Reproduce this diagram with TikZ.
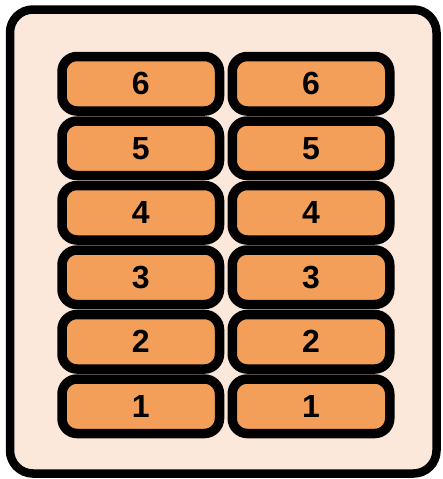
\documentclass[tikz,border=0pt]{standalone}
\usepackage{fontspec}
\setmainfont{Liberation Sans}
\definecolor{panelfill}{RGB}{251,232,219}
\definecolor{cellfill}{RGB}{244,159,89}
\tikzset{
  panel/.style={draw=black, line width=8.5pt, fill=panelfill, rounded corners=23pt},
  cell/.style={draw=black, line width=9.5pt, fill=cellfill, rounded corners=15pt,
    minimum width=157.5pt, minimum height=54.5pt, inner sep=0pt,
    font=\fontsize{32}{34}\selectfont\bfseries}
}
\begin{document}
\begin{tikzpicture}[x=1pt,y=-1pt]
\useasboundingbox (0,0) rectangle (442,479);
\draw[panel] (10,9.5) rectangle (436.5,473.5);
\foreach \n in {1,...,6}{
  \pgfmathsetmacro{\yc}{83.75+(6-\n)*64.5}
  \node[cell] (L\n) at (140.75,\yc) {\n};
  \node[cell] (R\n) at (311,\yc) {\n};
}
\end{tikzpicture}
\end{document}
